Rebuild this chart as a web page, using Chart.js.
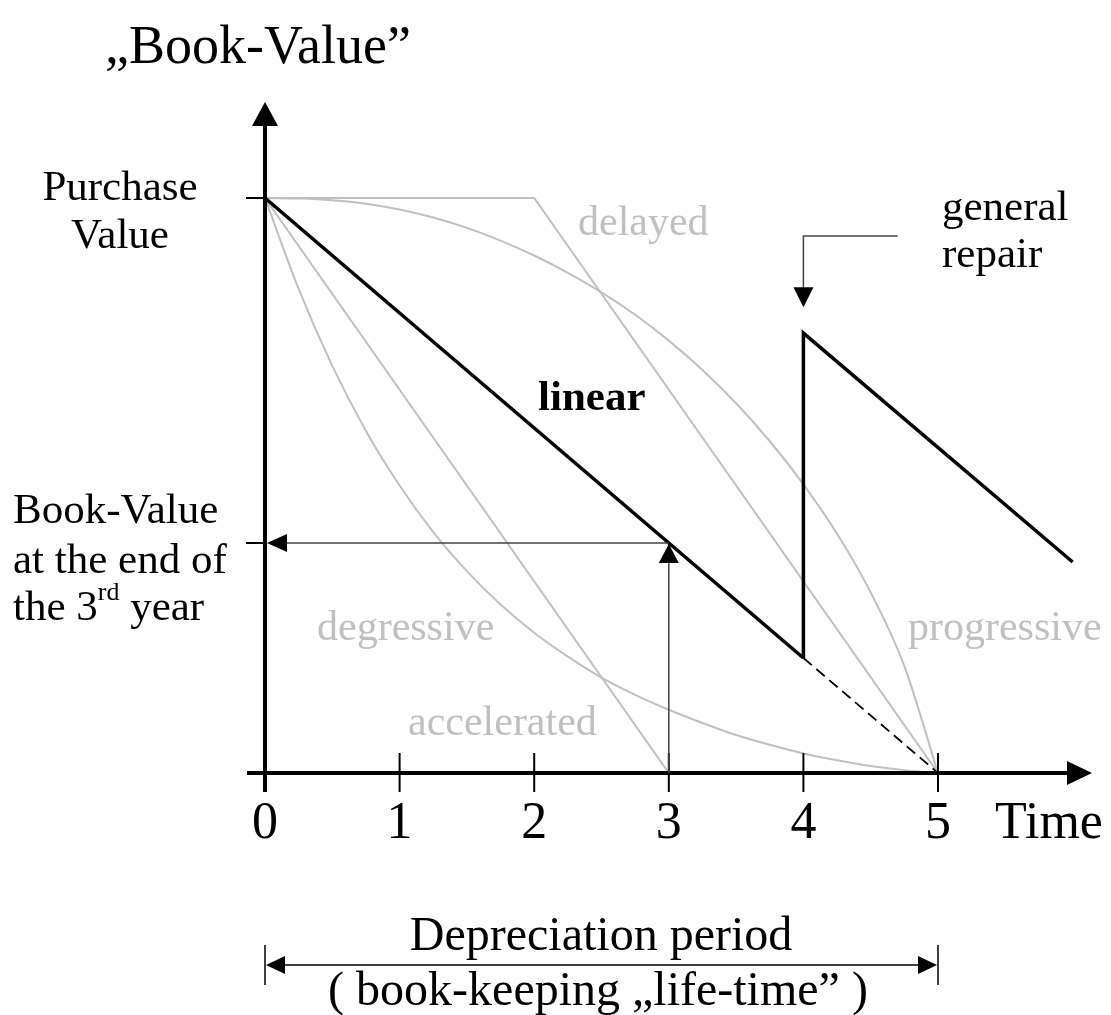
<!DOCTYPE html>
<html>
<head>
<meta charset="utf-8">
<script src="https://cdn.jsdelivr.net/npm/chart.js@4.4.0/dist/chart.umd.min.js"></script>
<style>
  html, body { margin: 0; padding: 0; background: #fff; }
  #wrap { width: 1111px; height: 1015px; }
</style>
</head>
<body>
<div id="wrap"><canvas id="bookChart" width="1111" height="1015"></canvas></div>
<script>
// tick labels on the time axis
const tickYears = [0, 1, 2, 3, 4, 5];
const tickLabels = ['0', '1', '2', '3', '4', '5'];

// book value in % of purchase value
const linearX = [0, 4];
const linearY = [100, 20];
const repairX = [4, 4, 6];
const repairY = [20, 76.5, 36.7];
const restX = [4, 5];
const restY = [20, 0];
const delayedX = [0, 2, 5];
const delayedY = [100, 100, 0];
const acceleratedX = [0, 3];
const acceleratedY = [100, 0];
const curveX = [0, 0.25, 0.5, 0.75, 1, 1.25, 1.5, 1.75, 2, 2.25, 2.5, 2.75, 3, 3.25, 3.5, 3.75, 4, 4.25, 4.5, 4.75, 5];
const degressiveY = [100, 84.2, 70.8, 59.5, 50.0, 41.9, 35.1, 29.3, 24.4, 20.25, 16.6, 13.6, 11.0, 8.7, 6.6, 4.9, 3.4, 2.2, 1.2, 0.5, 0];
const progressiveY = [100, 99.9, 99.6, 99.0, 98.0, 96.6, 94.8, 92.6, 90.0, 87.0, 83.6, 79.7, 75.2, 70.1, 64.3, 57.7, 50.2, 41.6, 31.4, 18.6, 0];

const SERIF = "'Liberation Serif', 'Times New Roman', serif";
const GRAY = '#c0c0c0';

function pts(xs, ys) {
    return xs.map((x, i) => ({ x: x, y: ys[i] }));
}

function tri(ctx, x1, y1, x2, y2, x3, y3) {
    ctx.beginPath();
    ctx.moveTo(x1, y1);
    ctx.lineTo(x2, y2);
    ctx.lineTo(x3, y3);
    ctx.closePath();
    ctx.fill();
}

function txt(ctx, s, x, y, size, align, color, bold) {
    ctx.font = (bold ? 'bold ' : '') + size + 'px ' + SERIF;
    ctx.textAlign = align || 'left';
    ctx.textBaseline = 'alphabetic';
    ctx.fillStyle = color || '#000';
    ctx.fillText(s, x, y);
}

// axes, arrows and all labels
const decorPlugin = {
    id: 'decor',
    afterDatasetsDraw(chart) {
        const ctx = chart.ctx;
        const xs = chart.scales.x, ys = chart.scales.y;
        const px = v => xs.getPixelForValue(v);
        const py = v => ys.getPixelForValue(v);
        const x0 = px(0), y0 = py(0);
        const top = chart.chartArea.top, right = chart.chartArea.right;
        ctx.save();
        ctx.fillStyle = '#000';
        ctx.strokeStyle = '#000';

        // main axes
        ctx.lineWidth = 4;
        ctx.beginPath();
        ctx.moveTo(x0, y0 + 19);
        ctx.lineTo(x0, top + 22);
        ctx.moveTo(x0 - 18, y0);
        ctx.lineTo(right - 22, y0);
        ctx.stroke();
        tri(ctx, x0, top, x0 - 13, top + 24, x0 + 13, top + 24);
        tri(ctx, right, y0, right - 25, y0 - 12, right - 25, y0 + 12);

        // ticks
        ctx.lineWidth = 2;
        ctx.beginPath();
        tickYears.slice(1).forEach(t => {
            ctx.moveTo(px(t), y0 - 20);
            ctx.lineTo(px(t), y0 + 19);
        });
        [100, 40].forEach(v => {
            ctx.moveTo(x0 - 19, py(v));
            ctx.lineTo(x0, py(v));
        });
        ctx.stroke();

        // book value after 3 years
        ctx.strokeStyle = '#444';
        ctx.lineWidth = 1.5;
        ctx.beginPath();
        ctx.moveTo(px(3), py(40));
        ctx.lineTo(x0 + 20, py(40));
        ctx.moveTo(px(3), y0);
        ctx.lineTo(px(3), py(40) + 18);
        ctx.stroke();
        tri(ctx, x0 + 2, py(40), x0 + 22, py(40) - 9, x0 + 22, py(40) + 9);
        tri(ctx, px(3), py(40) + 1, px(3) - 10, py(40) + 20, px(3) + 10, py(40) + 20);

        // general repair pointer
        ctx.beginPath();
        ctx.moveTo(px(4.7), py(93.4));
        ctx.lineTo(px(4), py(93.4));
        ctx.lineTo(px(4), py(81) - 18);
        ctx.stroke();
        tri(ctx, px(4), py(81), px(4) - 10, py(81) - 20, px(4) + 10, py(81) - 20);

        // depreciation period
        const yb = 965;
        ctx.strokeStyle = '#000';
        ctx.beginPath();
        ctx.moveTo(x0 + 18, yb);
        ctx.lineTo(px(5) - 18, yb);
        ctx.moveTo(x0, yb - 20);
        ctx.lineTo(x0, yb + 20);
        ctx.moveTo(px(5), yb - 20);
        ctx.lineTo(px(5), yb + 20);
        ctx.stroke();
        tri(ctx, x0 + 1, yb, x0 + 20, yb - 9, x0 + 20, yb + 9);
        tri(ctx, px(5) - 1, yb, px(5) - 20, yb - 9, px(5) - 20, yb + 9);

        // texts
        txt(ctx, '\u201EBook-Value\u201D', 105, 63, 54);
        txt(ctx, 'Purchase', 120, 200, 43, 'center');
        txt(ctx, 'Value', 120, 248, 43, 'center');
        txt(ctx, 'Book-Value', 13, 523, 43);
        txt(ctx, 'at the end of', 13, 573, 43);
        txt(ctx, 'the 3', 13, 620, 43);
        let w = ctx.measureText('the 3').width;
        txt(ctx, 'rd', 13 + w, 600, 26);
        let w2 = ctx.measureText('rd').width;
        txt(ctx, ' year', 13 + w + w2, 620, 43);
        txt(ctx, 'general', 942, 220, 43);
        txt(ctx, 'repair', 942, 267, 43);
        txt(ctx, 'delayed', 578, 235, 42, 'left', GRAY);
        txt(ctx, 'linear', 538, 410, 43, 'left', '#000', true);
        txt(ctx, 'degressive', 317, 640, 42, 'left', GRAY);
        txt(ctx, 'accelerated', 408, 735, 42, 'left', GRAY);
        txt(ctx, 'progressive', 908, 640, 42, 'left', GRAY);
        tickYears.forEach((t, i) => txt(ctx, tickLabels[i], px(t), 838, 52, 'center'));
        txt(ctx, 'Time', 995, 838, 52);
        txt(ctx, 'Depreciation period', 601, 950, 48, 'center');
        txt(ctx, '( book-keeping \u201Elife-time\u201D )', 598, 1005, 48, 'center');
        ctx.restore();
    }
};

document.addEventListener('DOMContentLoaded', function() {
    const gray = (label, xs, ys, curve) => ({
        label: label,
        data: pts(xs, ys),
        showLine: true,
        borderColor: GRAY,
        borderWidth: 2,
        pointRadius: 0,
        cubicInterpolationMode: curve ? 'monotone' : 'default',
        order: 2
    });

    new Chart(document.getElementById('bookChart'), {
        type: 'scatter',
        data: {
            datasets: [
                { label: 'linear', data: pts(linearX, linearY), showLine: true, borderColor: '#000', borderWidth: 3.5, pointRadius: 0, order: 0 },
                { label: 'repair', data: pts(repairX, repairY), showLine: true, borderColor: '#000', borderWidth: 3.5, pointRadius: 0, order: 0 },
                { label: 'rest', data: pts(restX, restY), showLine: true, borderColor: '#000', borderWidth: 1.8, borderDash: [11, 6], pointRadius: 0, order: 1 },
                gray('delayed', delayedX, delayedY),
                gray('accelerated', acceleratedX, acceleratedY),
                gray('degressive', curveX, degressiveY, true),
                gray('progressive', curveX, progressiveY, true)
            ]
        },
        options: {
            responsive: false,
            animation: false,
            layout: { padding: { left: 265, right: 19, top: 102, bottom: 242 } },
            plugins: { legend: { display: false }, tooltip: { enabled: false } },
            scales: {
                x: { type: 'linear', min: 0, max: 6.144, display: false },
                y: { type: 'linear', min: 0, max: 116.7, display: false }
            }
        },
        plugins: [decorPlugin]
    });
});
</script>
</body>
</html>
